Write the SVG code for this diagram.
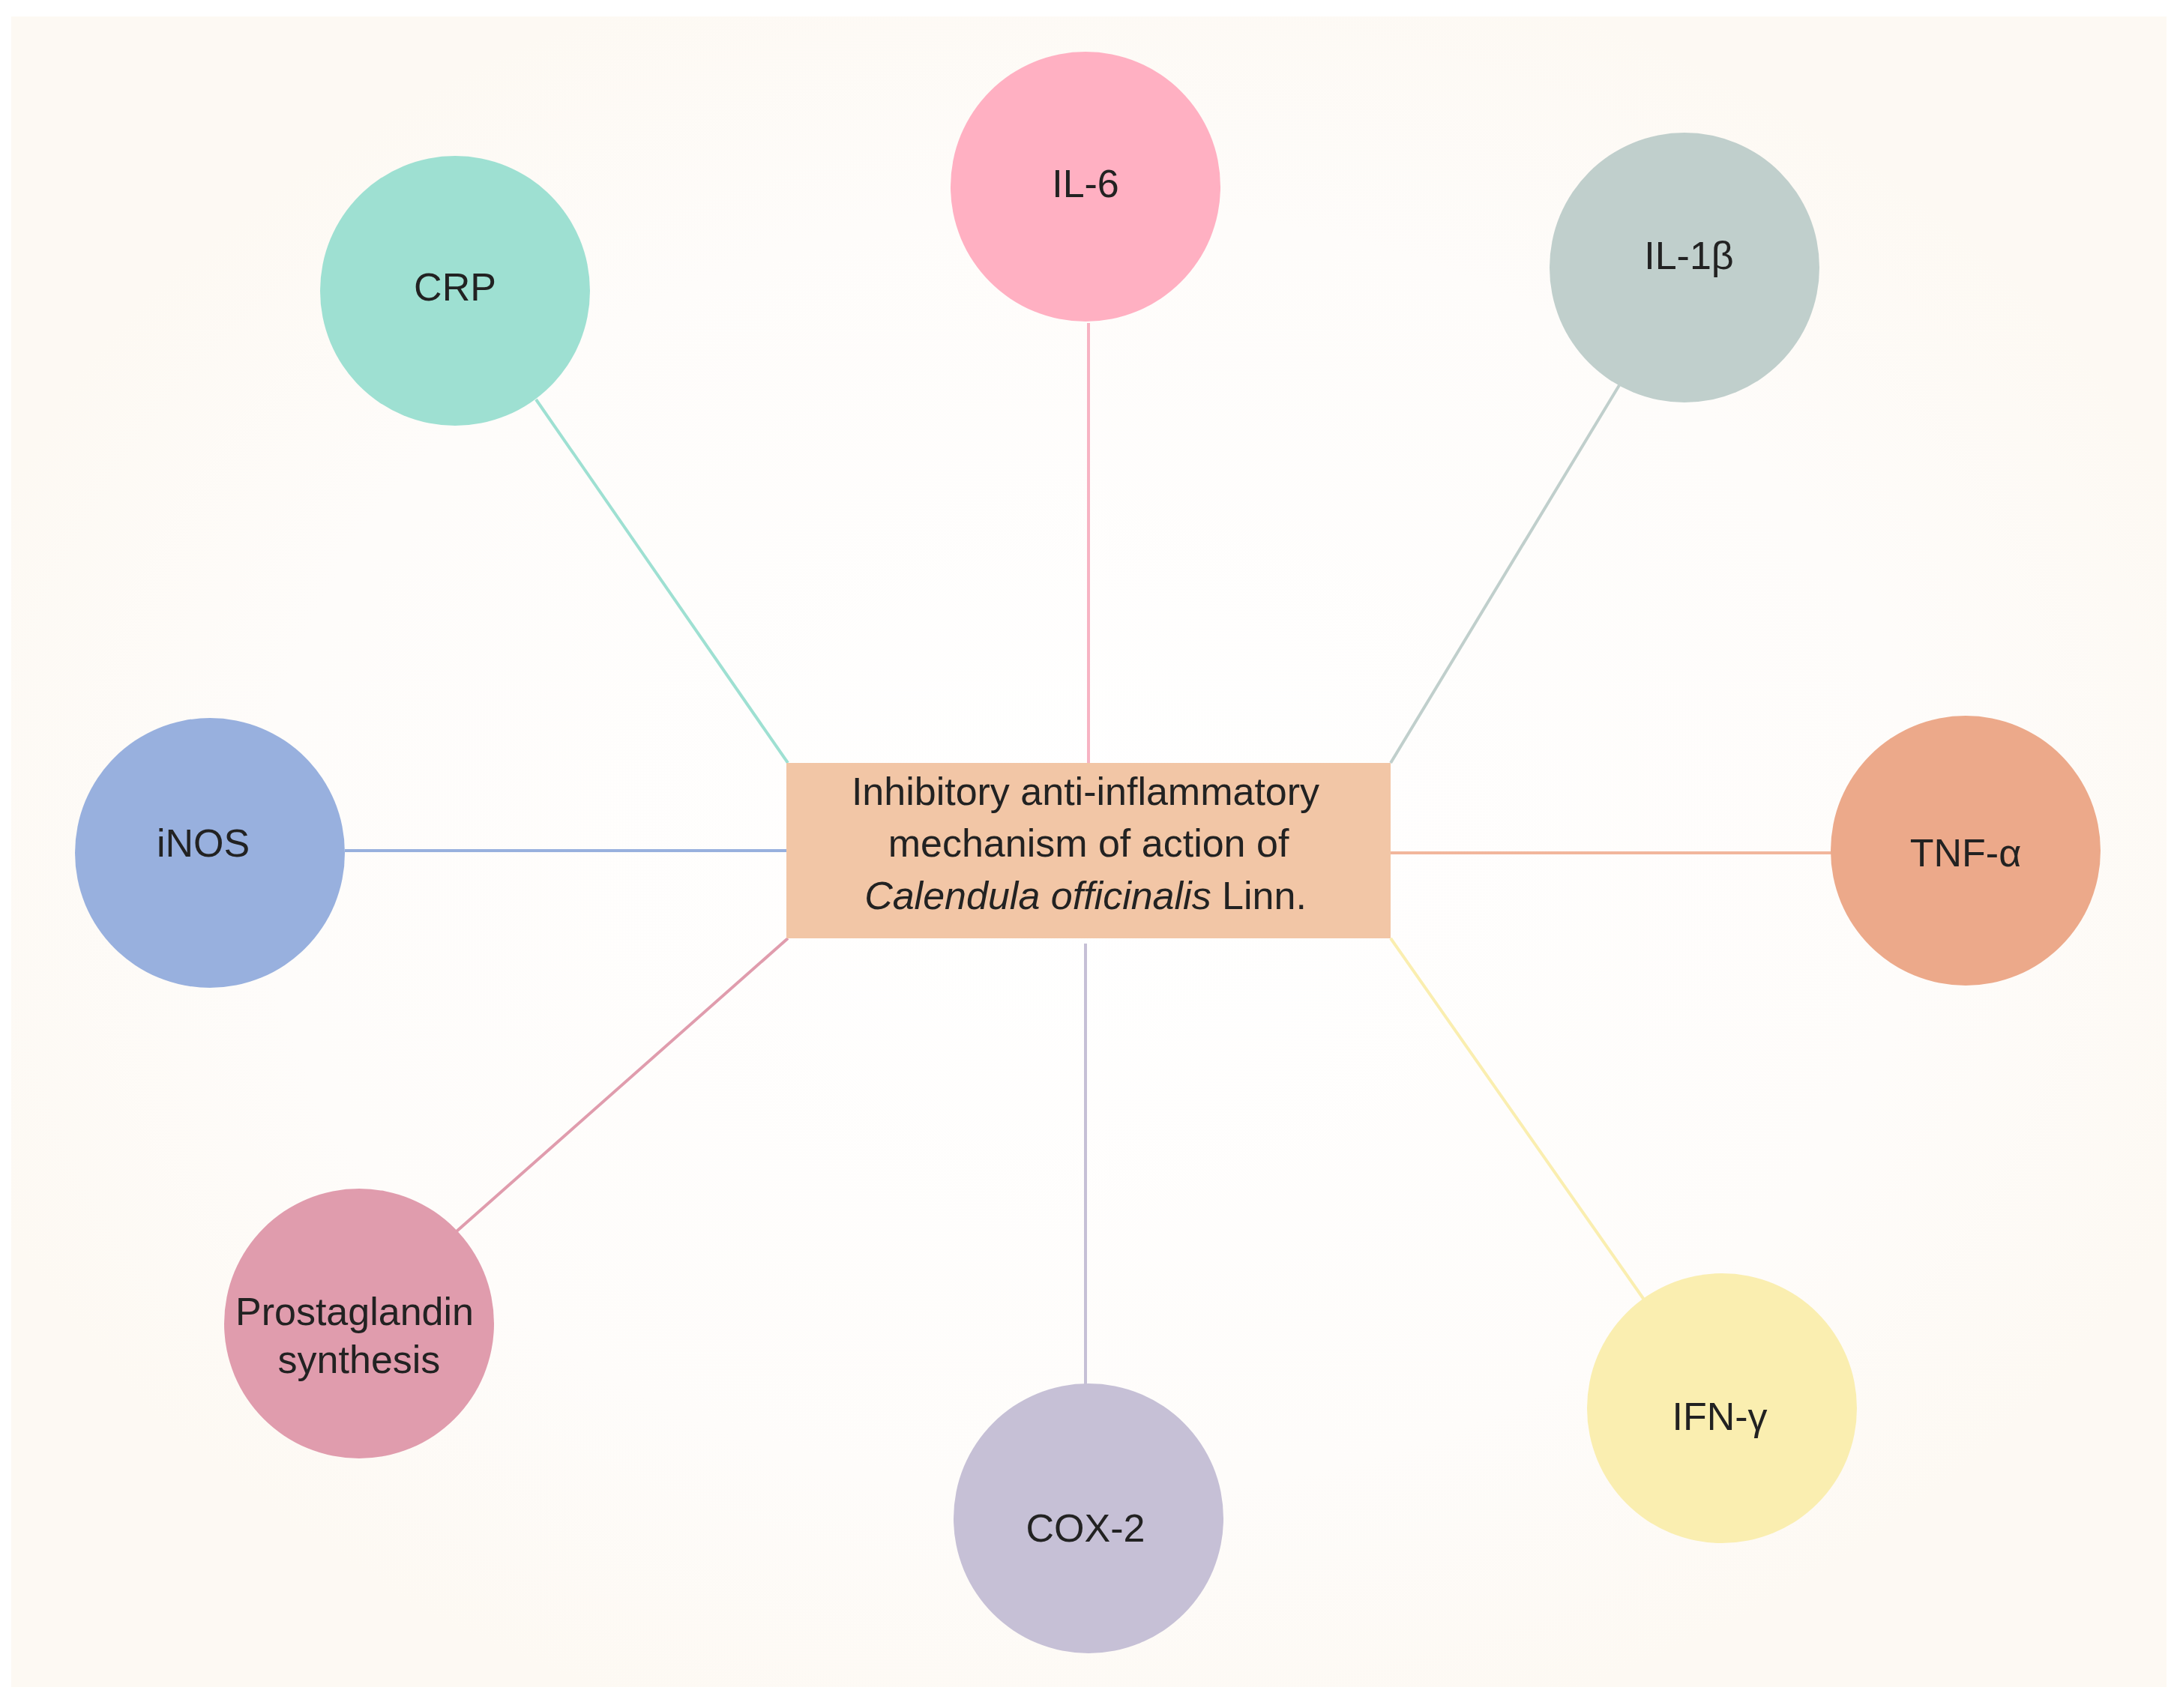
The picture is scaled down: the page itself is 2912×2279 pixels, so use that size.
<svg xmlns="http://www.w3.org/2000/svg" width="2912" height="2279" viewBox="0 0 2912 2279">
<defs>
<radialGradient id="bg" cx="50%" cy="50%" r="55%">
<stop offset="0" stop-color="#ffffff"/><stop offset="0.7" stop-color="#fefcfa"/><stop offset="1" stop-color="#fdf9f3"/>
</radialGradient>
</defs>
<style>
text{font-family:"Liberation Sans",Arial,sans-serif;font-size:52px;fill:#222;text-anchor:middle;dominant-baseline:central}
.c line{stroke-width:4}
</style>
<rect x="0" y="0" width="2912" height="2279" fill="#ffffff"/>
<rect x="15" y="22" width="2875" height="2229" fill="url(#bg)"/>
<g id="connectors" class="c">
<line x1="1452" y1="431" x2="1452" y2="1018" stroke="#f7b3c3"/>
<line x1="715" y1="533" x2="1051" y2="1018" stroke="#9ee0d2"/>
<line x1="2160" y1="514" x2="1855" y2="1018" stroke="#c0cfcc"/>
<line x1="460" y1="1135" x2="1049" y2="1135" stroke="#98b0de"/>
<line x1="1855" y1="1138" x2="2444" y2="1138" stroke="#f2b69c"/>
<line x1="609" y1="1643" x2="1051" y2="1252" stroke="#e09cad"/>
<line x1="1448" y1="1259" x2="1448" y2="1848" stroke="#c6c0d6"/>
<line x1="1855" y1="1252" x2="2193" y2="1734" stroke="#faeeb0"/>
</g>
<g id="center">
<rect x="1049" y="1018" width="806" height="234" fill="#f2c6a6"/>
<text x="1448" y="1056">Inhibitory anti-inflammatory</text>
<text x="1452" y="1125">mechanism of action of</text>
<text x="1448" y="1195"><tspan font-style="italic">Calendula officinalis</tspan> Linn.</text>
</g>
<g id="il6"><circle cx="1448" cy="249" r="180" fill="#ffb0c2"/><text x="1448" y="245">IL-6</text></g>
<g id="crp"><circle cx="607" cy="388" r="180" fill="#9ee0d2"/><text x="607" y="383">CRP</text></g>
<g id="il1b"><circle cx="2247" cy="357" r="180" fill="#c0cfcc"/><text x="2253" y="341">IL-1β</text></g>
<g id="inos"><circle cx="280" cy="1138" r="180" fill="#98b0de"/><text x="271" y="1125">iNOS</text></g>
<g id="tnf"><circle cx="2622" cy="1135" r="180" fill="#eca98a"/><text x="2622" y="1138">TNF-α</text></g>
<g id="prost"><circle cx="479" cy="1766" r="180" fill="#e09cad"/><text x="473" y="1750" font-size="47">Prostaglandin</text><text x="479" y="1814" font-size="47">synthesis</text></g>
<g id="cox2"><circle cx="1452" cy="2026" r="180" fill="#c6c0d6"/><text x="1448" y="2039">COX-2</text></g>
<g id="ifng"><circle cx="2297" cy="1879" r="180" fill="#faeeb0"/><text x="2294" y="1890">IFN-γ</text></g>
</svg>
